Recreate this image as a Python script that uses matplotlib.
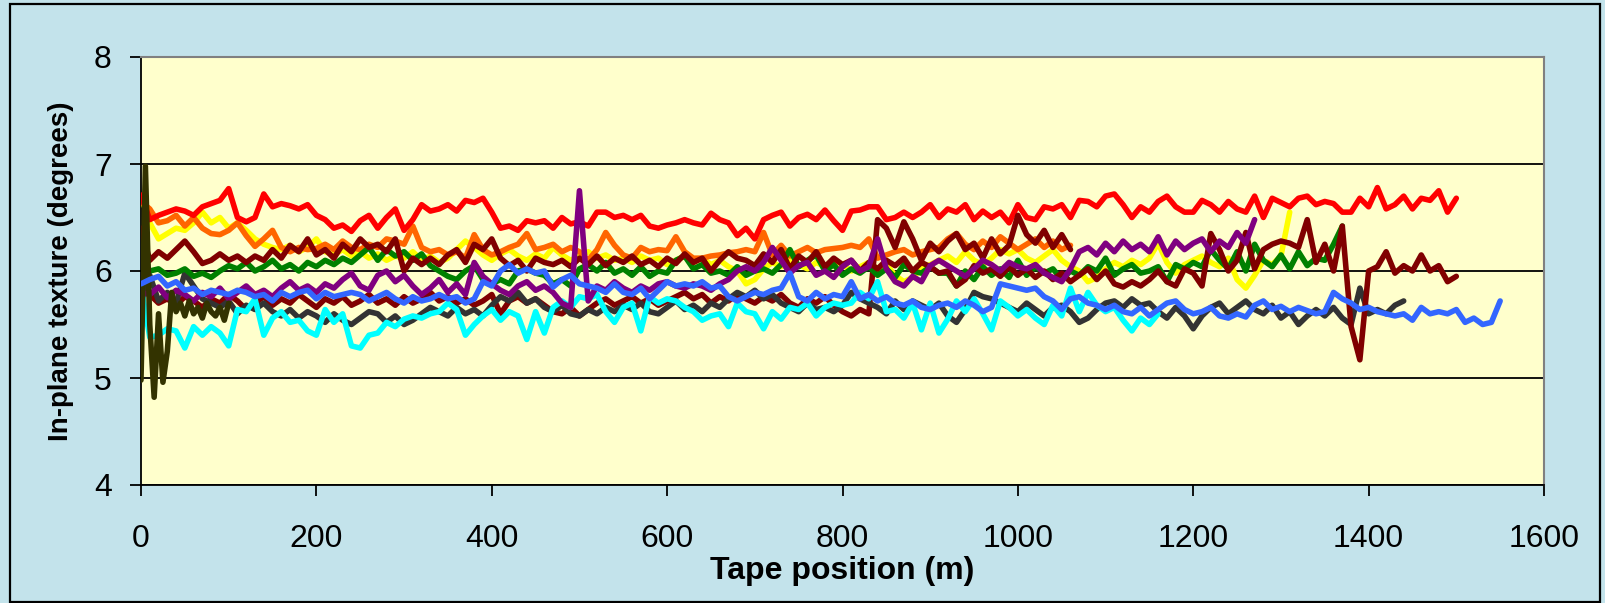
import numpy as np
import matplotlib
matplotlib.use("Agg")
import matplotlib.pyplot as plt
from matplotlib.patches import Rectangle

# In-plane texture along the tape, one trace per tape.
# Values, one row of 10 = 100 m of tape.
STEP = 10  # m between samples

red = [
    6.71, 6.48, 6.52, 6.55, 6.58, 6.56, 6.52, 6.60, 6.63, 6.66,
    6.77, 6.50, 6.46, 6.50, 6.72, 6.60, 6.63, 6.61, 6.58, 6.62,
    6.52, 6.48, 6.40, 6.43, 6.37, 6.47, 6.52, 6.40, 6.50, 6.58,
    6.38, 6.48, 6.62, 6.56, 6.58, 6.62, 6.56, 6.66, 6.64, 6.68,
    6.55, 6.40, 6.42, 6.38, 6.47, 6.45, 6.47, 6.40, 6.50, 6.44,
    6.46, 6.42, 6.55, 6.55, 6.50, 6.52, 6.48, 6.52, 6.42, 6.40,
    6.43, 6.45, 6.48, 6.45, 6.43, 6.54, 6.48, 6.45, 6.33, 6.40,
    6.30, 6.48, 6.52, 6.55, 6.42, 6.50, 6.53, 6.48, 6.57, 6.47,
    6.38, 6.56, 6.57, 6.60, 6.60, 6.48, 6.50, 6.55, 6.50, 6.55,
    6.62, 6.50, 6.58, 6.55, 6.62, 6.48, 6.56, 6.50, 6.55, 6.45,
    6.62, 6.50, 6.48, 6.60, 6.58, 6.62, 6.50, 6.66, 6.65, 6.60,
    6.70, 6.72, 6.62, 6.50, 6.60, 6.55, 6.65, 6.70, 6.60, 6.55,
    6.55, 6.66, 6.62, 6.55, 6.65, 6.58, 6.55, 6.70, 6.50, 6.68,
    6.64, 6.60, 6.68, 6.70, 6.62, 6.65, 6.63, 6.55, 6.55, 6.68,
    6.60, 6.78, 6.58, 6.62, 6.70, 6.58, 6.68, 6.66, 6.75, 6.55,
    6.68,
]

yellow = [
    6.70, 6.45, 6.30, 6.35, 6.40, 6.38, 6.45, 6.55, 6.45, 6.50,
    6.40, 6.45, 6.38, 6.30, 6.25, 6.22, 6.20, 6.24, 6.18, 6.22,
    6.30, 6.18, 6.15, 6.20, 6.14, 6.18, 6.12, 6.16, 6.10, 6.14,
    6.12, 6.18, 6.10, 6.14, 6.08, 6.12, 6.20, 6.28, 6.22, 6.15,
    6.10, 6.16, 6.20, 6.14, 6.10, 6.16, 6.12, 6.22, 6.15, 6.10,
    6.14, 6.18, 6.12, 6.15, 6.10, 6.12, 6.08, 6.14, 6.10, 6.12,
    6.06, 6.10, 6.14, 6.08, 6.12, 6.06, 6.10, 6.04, 6.00, 5.88,
    5.92, 6.02, 6.08, 6.04, 6.10, 6.06, 6.02, 6.08, 6.04, 6.10,
    6.06, 6.00, 6.04, 6.08, 6.02, 6.06, 5.96, 5.90, 5.94, 6.02,
    6.06, 6.10, 6.14, 6.08, 6.18, 6.10, 6.06, 6.12, 6.20, 6.16,
    6.20, 6.12, 6.08, 6.14, 6.20, 6.10, 6.04, 6.00, 5.90, 5.94,
    6.02, 6.08, 6.04, 6.10, 6.06, 6.12, 6.26, 6.08, 5.98, 6.06,
    6.10, 6.14, 6.08, 6.04, 6.12, 5.92, 5.84, 5.96, 6.10, 6.06,
    6.14, 6.55,
]

orange = [
    6.65, 6.58, 6.45, 6.47, 6.52, 6.42, 6.50, 6.40, 6.35, 6.34,
    6.38, 6.45, 6.33, 6.23, 6.30, 6.38, 6.22, 6.18, 6.22, 6.20,
    6.21, 6.25, 6.20, 6.28, 6.22, 6.20, 6.25, 6.22, 6.30, 6.28,
    6.25, 6.42, 6.22, 6.18, 6.20, 6.15, 6.18, 6.12, 6.34, 6.20,
    6.15, 6.18, 6.22, 6.25, 6.35, 6.20, 6.22, 6.25, 6.18, 6.22,
    6.18, 6.10, 6.20, 6.36, 6.24, 6.15, 6.12, 6.22, 6.18, 6.20,
    6.19, 6.32, 6.18, 6.12, 6.12, 6.14, 6.15, 6.17, 6.18, 6.20,
    6.18, 6.36, 6.15, 6.24, 6.14, 6.18, 6.22, 6.17, 6.20, 6.21,
    6.22, 6.24, 6.22, 6.30, 6.12, 6.15, 6.18, 6.20, 6.15, 6.18,
    6.20, 6.22, 6.30, 6.35, 6.25, 6.20, 6.28, 6.22, 6.32, 6.26,
    6.20, 6.25, 6.30, 6.22, 6.28, 6.20, 6.24,
]

maroon_a = [
    6.40, 6.10, 6.18, 6.12, 6.20, 6.28, 6.18, 6.07, 6.10, 6.16,
    6.10, 6.14, 6.08, 6.14, 6.10, 6.20, 6.12, 6.24, 6.18, 6.30,
    6.15, 6.20, 6.12, 6.25, 6.18, 6.30, 6.22, 6.25, 6.18, 6.30,
    6.00, 6.12, 6.06, 6.12, 6.06, 6.15, 6.20, 6.08, 6.25, 6.20,
    6.30, 6.12, 6.05, 6.10, 6.00, 6.12, 6.08, 6.06, 6.10, 6.04,
    6.12, 6.06, 6.14, 6.05, 6.12, 6.08, 6.14, 6.06, 6.10, 6.04,
    6.12, 6.07, 6.16, 6.08, 6.12, 6.00, 6.10, 6.18, 6.12, 6.10,
    6.05, 6.16, 6.08, 6.20, 6.02, 6.14, 6.08, 6.18, 6.04, 6.12,
    6.06, 6.10, 6.00, 6.08, 6.02, 6.10, 6.05, 6.12, 6.00, 6.08,
    6.04, 5.98, 6.00, 5.86, 5.92, 6.05, 5.98, 6.02, 5.95, 6.04,
    5.96, 6.02, 5.94, 6.00, 5.92, 5.98, 5.90, 5.96, 6.02, 5.92,
    6.00, 5.88, 5.85, 5.90, 5.86, 5.92, 6.00, 5.90, 5.86, 6.02,
    5.98, 5.86, 6.35, 6.20, 6.00, 6.10, 6.36, 6.02, 6.20, 6.25,
    6.28, 6.26, 6.22, 6.48, 6.08, 6.25, 6.00, 6.42, 5.48, 5.17,
    6.00, 6.04, 6.18, 5.98, 6.05, 6.00, 6.15, 6.00, 6.05, 5.90,
    5.95,
]

maroon_b = [
    6.05, 5.78, 5.70, 5.74, 5.68, 5.76, 5.72, 5.66, 5.74, 5.70,
    5.78, 5.72, 5.64, 5.70, 5.76, 5.68, 5.74, 5.70, 5.78, 5.72,
    5.66, 5.74, 5.70, 5.76, 5.68, 5.72, 5.78, 5.70, 5.74, 5.68,
    5.76, 5.70, 5.74, 5.80, 5.72, 5.76, 5.70, 5.74, 5.68, 5.72,
    5.78, 5.60, 5.72, 5.76, 5.70, 5.74, 5.68, 5.62, 5.60, 5.66,
    5.58, 5.64, 5.70, 5.74, 5.68, 5.72, 5.76, 5.70, 5.74, 5.68,
    5.72, 5.76, 5.80, 5.74, 5.78, 5.70, 5.76, 5.72, 5.78, 5.74,
    5.70, 5.76, 5.72, 5.78, 5.70, 5.66, 5.74, 5.70, 5.76, 5.68,
    5.62, 5.58, 5.64, 5.60, 6.48, 6.40, 6.22, 6.46, 6.30, 6.10,
    6.26, 6.18, 6.28, 6.35, 6.20, 6.26, 6.12, 6.30, 6.16, 6.24,
    6.52, 6.34, 6.26, 6.38, 6.22, 6.34, 6.20,
]

green = [
    6.08, 6.00, 6.02, 5.96, 5.98, 6.02, 5.95, 5.98, 5.94, 6.00,
    6.05, 6.02, 6.08, 6.00, 6.04, 6.10, 6.02, 6.06, 6.00, 6.08,
    6.04, 6.10, 6.06, 6.12, 6.08, 6.15, 6.22, 6.10, 6.20, 6.14,
    6.18, 6.10, 6.16, 6.05, 6.00, 5.95, 5.92, 6.00, 6.05, 5.92,
    5.88, 5.92, 5.88, 6.00, 6.02, 5.98, 5.96, 5.88, 5.92, 5.86,
    6.02, 6.06, 6.00, 6.08, 5.98, 6.02, 5.96, 6.04, 5.95, 6.00,
    5.98, 6.10, 6.14, 6.02, 6.06, 5.98, 6.00, 5.96, 6.04, 5.96,
    6.00, 6.02, 5.98, 6.06, 6.20, 6.04, 6.10, 6.15, 6.00, 6.06,
    5.96, 6.02, 5.98, 6.04, 5.96, 6.02, 5.94, 6.06, 6.00, 5.98,
    6.04, 5.98, 5.98, 5.86, 6.00, 5.92, 6.04, 5.96, 6.02, 5.94,
    6.10, 5.96, 6.04, 5.98, 6.02, 5.92, 6.00, 5.96, 6.04, 6.00,
    6.12, 5.96, 6.02, 6.06, 5.98, 6.00, 6.04, 5.90, 6.06, 6.02,
    6.08, 6.04, 6.20, 6.10, 6.02, 6.18, 6.00, 6.25, 6.10, 6.04,
    6.15, 6.02, 6.18, 6.05, 6.12, 6.10, 6.25, 6.42,
]

purple = [
    5.80, 5.78, 5.85, 5.75, 5.82, 5.78, 5.72, 5.80, 5.76, 5.84,
    5.74, 5.80, 5.86, 5.78, 5.82, 5.76, 5.84, 5.90, 5.82, 5.86,
    5.80, 5.88, 5.84, 5.92, 5.98, 5.86, 5.82, 5.96, 6.00, 5.90,
    5.96, 5.86, 5.78, 5.84, 5.92, 5.80, 5.88, 5.78, 6.08, 5.95,
    5.88, 5.82, 5.78, 5.86, 5.90, 5.82, 5.86, 5.80, 5.70, 5.66,
    6.75, 5.72, 5.86, 5.82, 5.90, 5.84, 5.80, 5.86, 5.82, 5.88,
    5.90, 5.86, 5.84, 5.88, 5.86, 5.82, 5.88, 5.92, 6.00, 6.04,
    6.00, 6.08, 6.22, 6.10, 5.98, 6.05, 6.08, 5.96, 6.00, 5.94,
    6.04, 6.10, 6.00, 6.04, 6.30, 6.02, 5.90, 5.86, 5.95, 5.90,
    6.05, 6.10, 6.05, 6.00, 5.95, 6.02, 6.10, 6.06, 6.00, 6.08,
    6.04, 6.02, 6.06, 5.98, 5.94, 5.90, 6.02, 6.18, 6.22, 6.15,
    6.26, 6.18, 6.28, 6.20, 6.25, 6.18, 6.32, 6.15, 6.28, 6.20,
    6.26, 6.30, 6.18, 6.28, 6.22, 6.36, 6.26, 6.48,
]

grey = [
    5.70, 5.96, 5.72, 5.80, 5.70, 5.98, 5.86, 5.74, 5.70, 5.66,
    5.72, 5.60, 5.68, 5.64, 5.70, 5.62, 5.58, 5.64, 5.56, 5.62,
    5.58, 5.52, 5.60, 5.54, 5.50, 5.56, 5.62, 5.60, 5.52, 5.58,
    5.50, 5.54, 5.60, 5.66, 5.62, 5.58, 5.66, 5.60, 5.64, 5.58,
    5.68, 5.76, 5.72, 5.80, 5.70, 5.74, 5.66, 5.62, 5.68, 5.60,
    5.58, 5.64, 5.60, 5.66, 5.62, 5.68, 5.64, 5.70, 5.62, 5.60,
    5.66, 5.72, 5.64, 5.68, 5.62, 5.70, 5.66, 5.74, 5.80, 5.76,
    5.82, 5.74, 5.78, 5.70, 5.66, 5.62, 5.70, 5.64, 5.66, 5.62,
    5.68, 5.80, 5.74, 5.70, 5.66, 5.60, 5.72, 5.64, 5.72, 5.68,
    5.64, 5.70, 5.58, 5.52, 5.64, 5.80, 5.76, 5.74, 5.70, 5.66,
    5.62, 5.70, 5.64, 5.58, 5.66, 5.68, 5.62, 5.52, 5.56, 5.64,
    5.70, 5.72, 5.66, 5.74, 5.68, 5.70, 5.62, 5.56, 5.66, 5.58,
    5.46, 5.58, 5.66, 5.70, 5.60, 5.66, 5.72, 5.64, 5.60, 5.68,
    5.56, 5.62, 5.50, 5.58, 5.64, 5.58, 5.66, 5.56, 5.50, 5.84,
    5.60, 5.64, 5.60, 5.68, 5.72,
]

cyan = [
    5.86, 5.38, 5.40, 5.46, 5.44, 5.28, 5.48, 5.40, 5.48, 5.42,
    5.30, 5.64, 5.62, 5.74, 5.40, 5.56, 5.62, 5.52, 5.54, 5.44,
    5.40, 5.64, 5.52, 5.60, 5.30, 5.28, 5.40, 5.42, 5.52, 5.48,
    5.55, 5.58, 5.56, 5.60, 5.62, 5.70, 5.64, 5.40, 5.50, 5.58,
    5.64, 5.54, 5.62, 5.58, 5.36, 5.62, 5.42, 5.66, 5.72, 5.66,
    5.76, 5.74, 5.78, 5.62, 5.52, 5.66, 5.70, 5.44, 5.76, 5.70,
    5.74, 5.72, 5.66, 5.62, 5.54, 5.58, 5.60, 5.48, 5.70, 5.62,
    5.60, 5.46, 5.62, 5.55, 5.66, 5.64, 5.70, 5.58, 5.66, 5.70,
    5.68, 5.70, 5.80, 5.74, 5.90, 5.62, 5.64, 5.56, 5.70, 5.45,
    5.70, 5.42, 5.55, 5.72, 5.62, 5.74, 5.60, 5.45, 5.72, 5.66,
    5.58, 5.64, 5.56, 5.50, 5.68, 5.58, 5.84, 5.62, 5.80, 5.68,
    5.62, 5.66, 5.54, 5.44, 5.56, 5.50, 5.60,
]

blue = [
    5.88, 5.92, 5.95, 5.86, 5.90, 5.82, 5.84, 5.78, 5.82, 5.80,
    5.78, 5.82, 5.80, 5.76, 5.78, 5.72, 5.80, 5.76, 5.80, 5.82,
    5.74, 5.80, 5.76, 5.78, 5.80, 5.78, 5.72, 5.76, 5.80, 5.74,
    5.70, 5.76, 5.72, 5.74, 5.78, 5.74, 5.76, 5.70, 5.74, 5.90,
    5.86, 6.00, 6.06, 5.98, 6.02, 5.98, 6.00, 5.85, 5.92, 5.96,
    5.88, 5.86, 5.84, 5.80, 5.88, 5.80, 5.78, 5.84, 5.74, 5.82,
    5.90, 5.86, 5.88, 5.86, 5.90, 5.84, 5.86, 5.76, 5.72, 5.76,
    5.80, 5.78, 5.82, 5.84, 5.98, 5.76, 5.72, 5.80, 5.74, 5.78,
    5.76, 5.90, 5.74, 5.78, 5.72, 5.76, 5.70, 5.68, 5.72, 5.66,
    5.64, 5.68, 5.70, 5.66, 5.72, 5.68, 5.62, 5.66, 5.88, 5.86,
    5.84, 5.82, 5.84, 5.76, 5.72, 5.64, 5.74, 5.76, 5.70, 5.68,
    5.64, 5.68, 5.62, 5.60, 5.66, 5.58, 5.64, 5.70, 5.72, 5.64,
    5.60, 5.62, 5.66, 5.58, 5.56, 5.60, 5.57, 5.68, 5.72, 5.64,
    5.67, 5.62, 5.66, 5.63, 5.60, 5.62, 5.80, 5.74, 5.70, 5.64,
    5.66, 5.62, 5.60, 5.58, 5.60, 5.54, 5.66, 5.60, 5.62, 5.60,
    5.64, 5.52, 5.56, 5.50, 5.52, 5.72,
]

# short trace at the start of the tape, sampled every 5 m
olive = [4.98, 6.98, 5.50, 4.82, 5.60, 4.96, 5.25, 5.80, 5.62, 5.70,
         5.58, 5.72, 5.60, 5.66, 5.56, 5.70, 5.62, 5.58, 5.66, 5.54, 5.70]

# drawing order = order of the series in the workbook
SERIES = [
    (yellow, STEP, "#FFFF00"),
    (orange, STEP, "#FF6600"),
    (red, STEP, "#FF0000"),
    (maroon_b, STEP, "#800000"),
    (grey, STEP, "#333333"),
    (cyan, STEP, "#00FFFF"),
    (green, STEP, "#008000"),
    (maroon_a, STEP, "#800000"),
    (purple, STEP, "#800080"),
    (olive, 5, "#333300"),
    (blue, STEP, "#3366FF"),
]

FONT = "Liberation Sans"
W, H = 1605, 603

fig = plt.figure(figsize=(W / 100, H / 100), dpi=100, facecolor="#C3E3EB")
ax = fig.add_axes([141 / W, 1 - 485 / H, (1544 - 141) / W, (485 - 57) / H])
ax.set_facecolor("#FFFFCC")

for vals, step, colour in SERIES:
    x = np.arange(len(vals)) * step
    ax.plot(x, vals, color=colour, lw=4.0, solid_joinstyle="round",
            solid_capstyle="round", zorder=3)

ax.set_xlim(0, 1600)
ax.set_ylim(4, 8)
ax.set_xticks(range(0, 1601, 200))
ax.set_yticks(range(4, 9))
ax.yaxis.grid(True, color="black", lw=1.3)
ax.set_axisbelow(True)

for side in ("left", "bottom"):
    ax.spines[side].set_color("black")
    ax.spines[side].set_linewidth(1.3)
for side in ("top", "right"):
    ax.spines[side].set_color("#808080")
    ax.spines[side].set_linewidth(1.5)

ax.tick_params(axis="x", direction="out", length=8, width=1.3, pad=20,
               labelsize=23, labelfontfamily=FONT)
ax.tick_params(axis="y", direction="out", length=8, width=1.3, pad=13,
               labelsize=23, labelfontfamily=FONT)

ax.set_xlabel("Tape position (m)", fontsize=23, fontweight="bold", family=FONT)
ax.xaxis.set_label_coords(0.5, (485 - 571) / 428)
ax.xaxis.label.set_va("center")
ax.set_ylabel("In-plane texture (degrees)", fontsize=20, fontweight="bold", family=FONT)
ax.yaxis.set_label_coords((61 - 141) / 1403, 0.5)
ax.yaxis.label.set_va("center")

# chart-area border
fig.patches.append(Rectangle((10 / W, 1 / H), 1590 / W, 598 / H, transform=fig.transFigure,
                             fill=False, ec="black", lw=1.6))

fig.savefig("out.png", dpi=100, facecolor=fig.get_facecolor())
